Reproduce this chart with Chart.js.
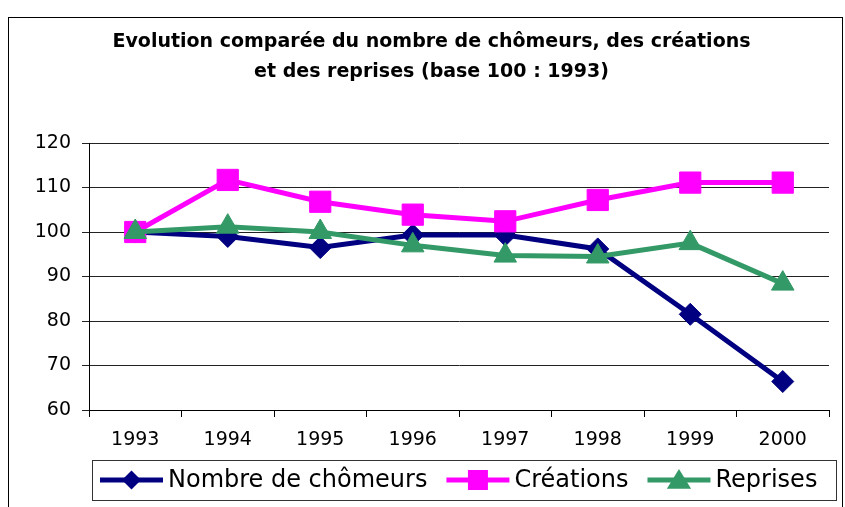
<!DOCTYPE html>
<html>
<head>
<meta charset="utf-8">
<script src="https://cdn.jsdelivr.net/npm/chart.js@4/dist/chart.umd.min.js"></script>
<style>
  html, body { margin: 0; padding: 0; background: #fff; }
</style>
</head>
<body>
<canvas id="graphique" width="845" height="507"></canvas>
<script>
// indices base 100 en 1993
const annees = ['1993', '1994', '1995', '1996', '1997', '1998', '1999', '2000'];
const chomeurs = [100, 99, 96.5, 99.3, 99.3, 96.2, 81.5, 66.4];
const creations = [100, 111.7, 106.8, 103.9, 102.4, 107.2, 111.1, 111.1];
const reprises = [100, 101.2, 100.0, 97.0, 94.7, 94.5, 97.5, 88.4];
const graduationsY = [60, 70, 80, 90, 100, 110, 120];
const titre = ['Evolution comparée du nombre de chômeurs, des créations', 'et des reprises (base 100 : 1993)'];
const noms = ['Nombre de chômeurs', 'Créations', 'Reprises'];

const police = 'DejaVu Sans';
Chart.defaults.font.family = police;
Chart.defaults.color = '#000';

// petit marqueur pour la légende
function marqueur(ctx, forme, x, y, r) {
  ctx.beginPath();
  if (forme === 'rectRot') {
    ctx.moveTo(x, y - r); ctx.lineTo(x + r, y); ctx.lineTo(x, y + r); ctx.lineTo(x - r, y);
  } else if (forme === 'rect') {
    ctx.rect(x - r, y - r, 2 * r, 2 * r);
  } else {
    ctx.moveTo(x, y - r); ctx.lineTo(x + r * 1.1, y + r * 0.8); ctx.lineTo(x - r * 1.1, y + r * 0.8);
  }
  ctx.closePath();
  ctx.fill();
}

const cadre = {
  id: 'cadre',
  beforeDraw(chart) {
    const ctx = chart.ctx;
    ctx.save();
    ctx.fillStyle = '#fff';
    ctx.fillRect(0, 0, chart.width, chart.height);
    ctx.strokeStyle = '#000';
    ctx.lineWidth = 1;
    ctx.strokeRect(8.5, 17.5, 834, 520);
    ctx.restore();
  }
};

const legende = {
  id: 'legende',
  afterDraw(chart) {
    const ctx = chart.ctx;
    ctx.save();
    ctx.strokeStyle = '#333';
    ctx.lineWidth = 1;
    ctx.strokeRect(92.5, 460.5, 744, 40);
    ctx.font = '24px "' + police + '"';
    ctx.textBaseline = 'alphabetic';
    const tailles = [9.5, 10, 11];
    let x = 100;
    chart.data.datasets.forEach((ds, i) => {
      ctx.strokeStyle = ds.borderColor;
      ctx.lineWidth = 5;
      ctx.beginPath();
      ctx.moveTo(x, 480);
      ctx.lineTo(x + 63, 480);
      ctx.stroke();
      ctx.fillStyle = ds.borderColor;
      marqueur(ctx, ds.pointStyle, x + 31.5, 480, tailles[i]);
      ctx.fillStyle = '#000';
      ctx.fillText(ds.label, x + 68, 487);
      x += 68 + ctx.measureText(ds.label).width + 19;
    });
    ctx.restore();
  }
};

new Chart(document.getElementById('graphique'), {
  type: 'line',
  data: {
    labels: annees,
    datasets: [
      { label: noms[0], data: chomeurs, borderColor: '#000080', backgroundColor: '#000080',
        pointStyle: 'rectRot', pointRadius: 11, order: 3 },
      { label: noms[1], data: creations, borderColor: '#ff00ff', backgroundColor: '#ff00ff',
        pointStyle: 'rect', pointRadius: 15, order: 2 },
      { label: noms[2], data: reprises, borderColor: '#339966', backgroundColor: '#339966',
        pointStyle: 'triangle', pointRadius: 13, order: 1 }
    ].map(ds => Object.assign(ds, {
      borderWidth: 5, pointBorderWidth: 1, pointHoverRadius: ds.pointRadius,
      pointBorderColor: ds.borderColor, pointBackgroundColor: ds.borderColor,
      tension: 0, fill: false
    }))
  },
  options: {
    responsive: false,
    animation: false,
    devicePixelRatio: 1,
    layout: { padding: { left: 28, right: 10, top: 18, bottom: 47 } },
    plugins: {
      legend: { display: false },
      tooltip: { enabled: false },
      title: {
        display: true,
        text: titre,
        font: { size: 19, weight: 'bold', lineHeight: 30 / 19 },
        padding: { top: 9, bottom: 56 }
      }
    },
    scales: {
      x: {
        offset: true,
        grid: { offset: true, drawOnChartArea: false, drawTicks: true, tickLength: 7, color: '#000' },
        border: { color: '#000', width: 1 },
        ticks: { font: { size: 19 }, padding: 12, maxRotation: 0, autoSkip: false },
        afterFit: s => { s.height = 50; }
      },
      y: {
        min: 60,
        max: 120,
        afterBuildTicks: s => { s.ticks = graduationsY.map(v => ({ value: v })); },
        grid: { color: '#222', tickLength: 7 },
        border: { color: '#000', width: 1 },
        ticks: { font: { size: 19 }, padding: 11 },
        afterFit: s => { s.width = 61; }
      }
    }
  },
  plugins: [cadre, legende]
});
</script>
</body>
</html>
